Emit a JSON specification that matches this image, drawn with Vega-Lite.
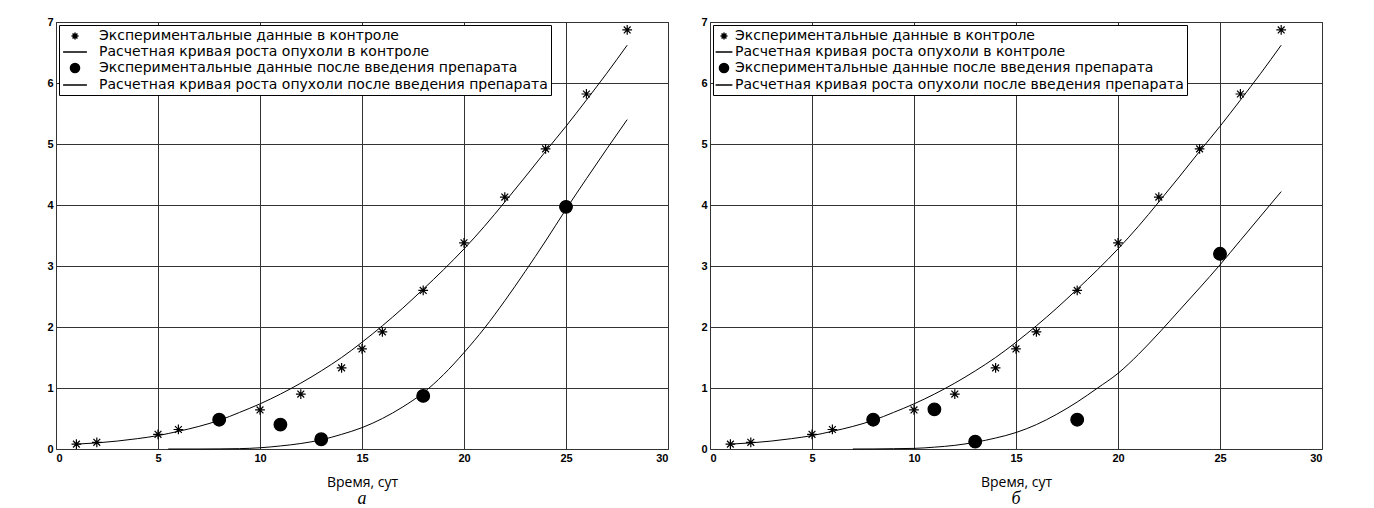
{
  "$schema": "https://vega.github.io/schema/vega-lite/v6.json",
  "background": "white",
  "padding": {"left": 46, "top": 15, "right": 10, "bottom": 0},
  "bounds": "flush",
  "spacing": 42,
  "datasets": {
    "ptsA": [
      {"s": "Экспериментальные данные в контроле", "x": 1, "y": 0.08},
      {"s": "Экспериментальные данные в контроле", "x": 2, "y": 0.11},
      {"s": "Экспериментальные данные в контроле", "x": 5, "y": 0.24},
      {"s": "Экспериментальные данные в контроле", "x": 6, "y": 0.32},
      {"s": "Экспериментальные данные в контроле", "x": 10, "y": 0.64},
      {"s": "Экспериментальные данные в контроле", "x": 12, "y": 0.90},
      {"s": "Экспериментальные данные в контроле", "x": 14, "y": 1.33},
      {"s": "Экспериментальные данные в контроле", "x": 15, "y": 1.64},
      {"s": "Экспериментальные данные в контроле", "x": 16, "y": 1.92},
      {"s": "Экспериментальные данные в контроле", "x": 18, "y": 2.60},
      {"s": "Экспериментальные данные в контроле", "x": 20, "y": 3.38},
      {"s": "Экспериментальные данные в контроле", "x": 22, "y": 4.13},
      {"s": "Экспериментальные данные в контроле", "x": 24, "y": 4.92},
      {"s": "Экспериментальные данные в контроле", "x": 26, "y": 5.82},
      {"s": "Экспериментальные данные в контроле", "x": 28, "y": 6.87},
      {"s": "Экспериментальные данные после введения препарата", "x": 8, "y": 0.48},
      {"s": "Экспериментальные данные после введения препарата", "x": 11, "y": 0.40},
      {"s": "Экспериментальные данные после введения препарата", "x": 13, "y": 0.16},
      {"s": "Экспериментальные данные после введения препарата", "x": 18, "y": 0.87},
      {"s": "Экспериментальные данные после введения препарата", "x": 25, "y": 3.97}
    ],
    "ptsB": [
      {"s": "Экспериментальные данные в контроле", "x": 1, "y": 0.08},
      {"s": "Экспериментальные данные в контроле", "x": 2, "y": 0.11},
      {"s": "Экспериментальные данные в контроле", "x": 5, "y": 0.24},
      {"s": "Экспериментальные данные в контроле", "x": 6, "y": 0.32},
      {"s": "Экспериментальные данные в контроле", "x": 10, "y": 0.64},
      {"s": "Экспериментальные данные в контроле", "x": 12, "y": 0.90},
      {"s": "Экспериментальные данные в контроле", "x": 14, "y": 1.33},
      {"s": "Экспериментальные данные в контроле", "x": 15, "y": 1.64},
      {"s": "Экспериментальные данные в контроле", "x": 16, "y": 1.92},
      {"s": "Экспериментальные данные в контроле", "x": 18, "y": 2.60},
      {"s": "Экспериментальные данные в контроле", "x": 20, "y": 3.38},
      {"s": "Экспериментальные данные в контроле", "x": 22, "y": 4.13},
      {"s": "Экспериментальные данные в контроле", "x": 24, "y": 4.92},
      {"s": "Экспериментальные данные в контроле", "x": 26, "y": 5.82},
      {"s": "Экспериментальные данные в контроле", "x": 28, "y": 6.87},
      {"s": "Экспериментальные данные после введения препарата", "x": 8, "y": 0.48},
      {"s": "Экспериментальные данные после введения препарата", "x": 11, "y": 0.65},
      {"s": "Экспериментальные данные после введения препарата", "x": 13, "y": 0.12},
      {"s": "Экспериментальные данные после введения препарата", "x": 18, "y": 0.48},
      {"s": "Экспериментальные данные после введения препарата", "x": 25, "y": 3.20}
    ],
    "curA": [
      {"c": "control", "x": 1, "y": 0.08}, {"c": "control", "x": 2, "y": 0.10}, {"c": "control", "x": 3, "y": 0.13},
      {"c": "control", "x": 4, "y": 0.17}, {"c": "control", "x": 5, "y": 0.22}, {"c": "control", "x": 6, "y": 0.29},
      {"c": "control", "x": 7, "y": 0.37}, {"c": "control", "x": 8, "y": 0.47}, {"c": "control", "x": 9, "y": 0.60},
      {"c": "control", "x": 10, "y": 0.74}, {"c": "control", "x": 11, "y": 0.90}, {"c": "control", "x": 12, "y": 1.08},
      {"c": "control", "x": 13, "y": 1.28}, {"c": "control", "x": 14, "y": 1.50}, {"c": "control", "x": 15, "y": 1.75},
      {"c": "control", "x": 16, "y": 2.02}, {"c": "control", "x": 17, "y": 2.31}, {"c": "control", "x": 18, "y": 2.62},
      {"c": "control", "x": 19, "y": 2.94}, {"c": "control", "x": 20, "y": 3.28}, {"c": "control", "x": 21, "y": 3.65},
      {"c": "control", "x": 22, "y": 4.05}, {"c": "control", "x": 23, "y": 4.46}, {"c": "control", "x": 24, "y": 4.88},
      {"c": "control", "x": 25, "y": 5.29}, {"c": "control", "x": 26, "y": 5.72}, {"c": "control", "x": 27, "y": 6.16},
      {"c": "control", "x": 28, "y": 6.62},
      {"c": "treated", "x": 5.5, "y": 0}, {"c": "treated", "x": 7, "y": 0}, {"c": "treated", "x": 8, "y": 0.002},
      {"c": "treated", "x": 9, "y": 0.006}, {"c": "treated", "x": 10, "y": 0.02}, {"c": "treated", "x": 11, "y": 0.05},
      {"c": "treated", "x": 12, "y": 0.09}, {"c": "treated", "x": 13, "y": 0.15}, {"c": "treated", "x": 14, "y": 0.24},
      {"c": "treated", "x": 15, "y": 0.35}, {"c": "treated", "x": 16, "y": 0.50}, {"c": "treated", "x": 17, "y": 0.69},
      {"c": "treated", "x": 18, "y": 0.92}, {"c": "treated", "x": 19, "y": 1.22}, {"c": "treated", "x": 20, "y": 1.58},
      {"c": "treated", "x": 21, "y": 1.98}, {"c": "treated", "x": 22, "y": 2.43}, {"c": "treated", "x": 23, "y": 2.91},
      {"c": "treated", "x": 24, "y": 3.41}, {"c": "treated", "x": 25, "y": 3.93}, {"c": "treated", "x": 26, "y": 4.43},
      {"c": "treated", "x": 27, "y": 4.92}, {"c": "treated", "x": 28, "y": 5.40}
    ],
    "curB": [
      {"c": "control", "x": 1, "y": 0.08}, {"c": "control", "x": 2, "y": 0.10}, {"c": "control", "x": 3, "y": 0.13},
      {"c": "control", "x": 4, "y": 0.17}, {"c": "control", "x": 5, "y": 0.22}, {"c": "control", "x": 6, "y": 0.29},
      {"c": "control", "x": 7, "y": 0.37}, {"c": "control", "x": 8, "y": 0.47}, {"c": "control", "x": 9, "y": 0.60},
      {"c": "control", "x": 10, "y": 0.74}, {"c": "control", "x": 11, "y": 0.90}, {"c": "control", "x": 12, "y": 1.08},
      {"c": "control", "x": 13, "y": 1.28}, {"c": "control", "x": 14, "y": 1.50}, {"c": "control", "x": 15, "y": 1.75},
      {"c": "control", "x": 16, "y": 2.02}, {"c": "control", "x": 17, "y": 2.31}, {"c": "control", "x": 18, "y": 2.62},
      {"c": "control", "x": 19, "y": 2.94}, {"c": "control", "x": 20, "y": 3.28}, {"c": "control", "x": 21, "y": 3.65},
      {"c": "control", "x": 22, "y": 4.05}, {"c": "control", "x": 23, "y": 4.46}, {"c": "control", "x": 24, "y": 4.88},
      {"c": "control", "x": 25, "y": 5.29}, {"c": "control", "x": 26, "y": 5.72}, {"c": "control", "x": 27, "y": 6.16},
      {"c": "control", "x": 28, "y": 6.62},
      {"c": "treated", "x": 7, "y": 0}, {"c": "treated", "x": 8, "y": 0.001}, {"c": "treated", "x": 9, "y": 0.005},
      {"c": "treated", "x": 10, "y": 0.01}, {"c": "treated", "x": 11, "y": 0.03}, {"c": "treated", "x": 12, "y": 0.06},
      {"c": "treated", "x": 13, "y": 0.11}, {"c": "treated", "x": 14, "y": 0.18}, {"c": "treated", "x": 15, "y": 0.27},
      {"c": "treated", "x": 16, "y": 0.40}, {"c": "treated", "x": 17, "y": 0.57}, {"c": "treated", "x": 18, "y": 0.77},
      {"c": "treated", "x": 19, "y": 1.00}, {"c": "treated", "x": 20, "y": 1.24}, {"c": "treated", "x": 21, "y": 1.55},
      {"c": "treated", "x": 22, "y": 1.90}, {"c": "treated", "x": 23, "y": 2.27}, {"c": "treated", "x": 24, "y": 2.64},
      {"c": "treated", "x": 25, "y": 3.02}, {"c": "treated", "x": 26, "y": 3.42}, {"c": "treated", "x": 27, "y": 3.82},
      {"c": "treated", "x": 28, "y": 4.22}
    ]
  },
  "hconcat": [
    {
      "width": 612,
      "height": 427,
      "title": {"text": "а", "orient": "bottom", "font": "Liberation Serif", "fontStyle": "italic", "fontWeight": "normal", "fontSize": 18, "offset": 1, "color": "black"},
      "layer": [
        {
          "data": {"name": "curA"},
          "mark": {"type": "line", "color": "black", "strokeWidth": 1, "interpolate": "monotone"},
          "encoding": {
            "x": {"field": "x", "type": "quantitative", "scale": {"domain": [0, 30], "nice": false}, "axis": {"values": [0, 5, 10, 15, 20, 25, 30], "title": "Время, сут"}},
            "y": {"field": "y", "type": "quantitative", "scale": {"domain": [0, 7], "nice": false}, "axis": {"values": [0, 1, 2, 3, 4, 5, 6, 7], "format": "d", "title": null}},
            "detail": {"field": "c"}
          }
        },
        {
          "data": {"name": "ptsA"},
          "mark": {"type": "point", "filled": true, "fill": "black", "stroke": "black", "strokeWidth": 1.2, "size": 380, "opacity": 1},
          "encoding": {
            "x": {"field": "x", "type": "quantitative"},
            "y": {"field": "y", "type": "quantitative"},
            "shape": {
              "field": "s",
              "type": "nominal",
              "scale": {
                "domain": ["Экспериментальные данные в контроле", "Расчетная кривая роста опухоли в контроле", "Экспериментальные данные после введения препарата", "Расчетная кривая роста опухоли после введения препарата"],
                "range": ["M-0.5,0L0.5,0M0,-0.5L0,0.5M-0.35,-0.35L0.35,0.35M-0.35,0.35L0.35,-0.35", "M-1.7,0L1.7,0", "M0.65,0A0.65,0.65,0,1,1,-0.65,0A0.65,0.65,0,1,1,0.65,0Z", "M-1.7,0L1.7,0"]
              },
              "legend": {
                "title": null, "orient": "top-left", "offset": 3, "padding": 3,
                "strokeColor": "black", "fillColor": "white",
                "symbolSize": 196, "symbolOffset": 5,
                "labelFont": "DejaVu Sans", "labelFontSize": 14, "labelColor": "black", "labelLimit": 0, "labelOffset": 16,
                "rowPadding": 1,
                "encode": {"symbols": {"update": {"fill": {"value": "black"}, "stroke": {"value": "black"}, "strokeWidth": {"value": 1}, "opacity": {"value": 1}}}}
              }
            }
          }
        }
      ]
    },
    {
      "width": 612,
      "height": 427,
      "title": {"text": "б", "orient": "bottom", "font": "Liberation Serif", "fontStyle": "italic", "fontWeight": "normal", "fontSize": 18, "offset": 1, "color": "black"},
      "layer": [
        {
          "data": {"name": "curB"},
          "mark": {"type": "line", "color": "black", "strokeWidth": 1, "interpolate": "monotone"},
          "encoding": {
            "x": {"field": "x", "type": "quantitative", "scale": {"domain": [0, 30], "nice": false}, "axis": {"values": [0, 5, 10, 15, 20, 25, 30], "title": "Время, сут"}},
            "y": {"field": "y", "type": "quantitative", "scale": {"domain": [0, 7], "nice": false}, "axis": {"values": [0, 1, 2, 3, 4, 5, 6, 7], "format": "d", "title": null}},
            "detail": {"field": "c"}
          }
        },
        {
          "data": {"name": "ptsB"},
          "mark": {"type": "point", "filled": true, "fill": "black", "stroke": "black", "strokeWidth": 1.2, "size": 380, "opacity": 1},
          "encoding": {
            "x": {"field": "x", "type": "quantitative"},
            "y": {"field": "y", "type": "quantitative"},
            "shape": {
              "field": "s",
              "type": "nominal",
              "scale": {
                "domain": ["Экспериментальные данные в контроле", "Расчетная кривая роста опухоли в контроле", "Экспериментальные данные после введения препарата", "Расчетная кривая роста опухоли после введения препарата"],
                "range": ["M-0.5,0L0.5,0M0,-0.5L0,0.5M-0.35,-0.35L0.35,0.35M-0.35,0.35L0.35,-0.35", "M-1.2,0L1.2,0", "M0.65,0A0.65,0.65,0,1,1,-0.65,0A0.65,0.65,0,1,1,0.65,0Z", "M-1.2,0L1.2,0"]
              },
              "legend": {
                "title": null, "orient": "top-left", "offset": 3, "padding": 3,
                "strokeColor": "black", "fillColor": "white",
                "symbolSize": 196,
                "labelFont": "DejaVu Sans", "labelFontSize": 14, "labelColor": "black", "labelLimit": 0, "labelOffset": 3,
                "rowPadding": 1,
                "encode": {"symbols": {"update": {"fill": {"value": "black"}, "stroke": {"value": "black"}, "strokeWidth": {"value": 1}, "opacity": {"value": 1}}}}
              }
            }
          }
        }
      ]
    }
  ],
  "resolve": {"scale": {"shape": "independent"}, "legend": {"shape": "independent"}},
  "config": {
    "view": {"stroke": "#333", "strokeWidth": 1},
    "axis": {
      "grid": true, "gridColor": "#333", "gridWidth": 1, "gridOpacity": 1,
      "domain": false, "ticks": false,
      "labelFont": "Liberation Sans", "labelFontWeight": "bold", "labelFontSize": 11, "labelColor": "black",
      "titleFont": "Open Sans", "titleFontWeight": "normal", "titleFontSize": 14, "titleColor": "black"
    },
    "axisX": {"labelPadding": 3, "titlePadding": 12},
    "axisY": {"labelPadding": 3}
  }
}
